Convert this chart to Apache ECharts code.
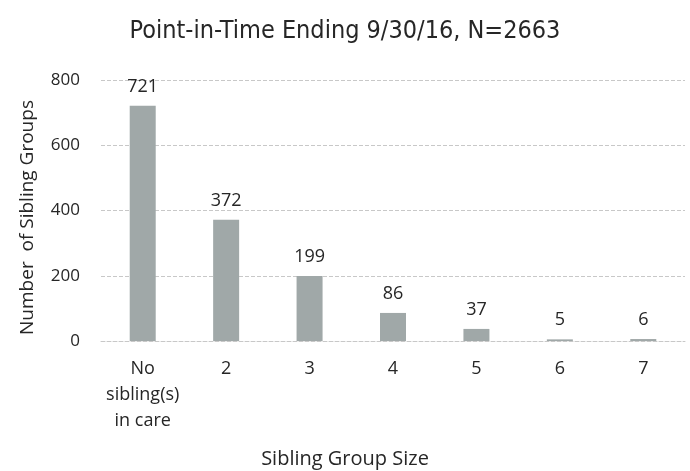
<!DOCTYPE html>
<html>
<head>
<meta charset="utf-8">
<script src="https://cdn.jsdelivr.net/npm/echarts@6/dist/echarts.min.js"></script>
<style>
  html, body { margin: 0; padding: 0; background: #fff; }
  #chart { width: 690px; height: 471px; }
</style>
</head>
<body>
<div id="chart"></div>
<script>
// sibling group sizes, point-in-time
var categories = ["No\nsibling(s)\nin care", "2", "3", "4", "5", "6", "7"];
var groupCounts = [721, 372, 199, 86, 37, 5, 6];
var yTicks = [0, 200, 400, 600, 800];

var labelFont = "'Open Sans', 'Liberation Sans', sans-serif";
var chart = echarts.init(document.getElementById("chart"));
chart.setOption({
  animation: false,
  title: [
    {
      text: "Point-in-Time Ending 9/30/16, N=2663",
      left: "center",
      top: 14,
      textStyle: {
        fontFamily: "'Liberation Sans Narrow', 'DejaVu Sans Condensed', sans-serif",
        fontSize: 25,
        fontWeight: "normal",
        color: "#262626"
      }
    },
    {
      text: "Sibling Group Size",
      left: "center",
      top: 444,
      textStyle: {
        fontFamily: labelFont,
        fontSize: 20,
        fontWeight: "normal",
        color: "#262626"
      }
    }
  ],
  grid: {
    left: 101,
    right: 5,
    top: 80,
    bottom: 130
  },
  xAxis: {
    type: "category",
    data: categories,
    axisLine: { lineStyle: { color: "#c8c8c8", type: "dashed" } },
    axisTick: { show: false },
    axisLabel: {
      interval: 0,
      color: "#262626",
      fontFamily: labelFont,
      fontSize: 18,
      lineHeight: 26,
      margin: 15
    }
  },
  yAxis: {
    type: "value",
    min: yTicks[0],
    max: yTicks[yTicks.length - 1],
    interval: yTicks[1] - yTicks[0],
    name: "Number  of Sibling Groups",
    nameLocation: "middle",
    nameGap: 64,
    nameTextStyle: {
      fontFamily: labelFont,
      fontSize: 19,
      color: "#262626",
      padding: [0, 14, 0, 0]
    },
    axisLine: { show: false },
    axisTick: { show: false },
    axisLabel: {
      color: "#262626",
      fontFamily: labelFont,
      fontSize: 17,
      margin: 21
    },
    splitLine: { lineStyle: { color: "#c8c8c8", type: "dashed" } }
  },
  series: [
    {
      type: "bar",
      data: groupCounts,
      barWidth: 26,
      itemStyle: { color: "#a0a8a8" },
      label: {
        show: true,
        position: "top",
        distance: 10,
        color: "#262626",
        fontFamily: labelFont,
        fontSize: 18
      }
    }
  ]
});
</script>
</body>
</html>
